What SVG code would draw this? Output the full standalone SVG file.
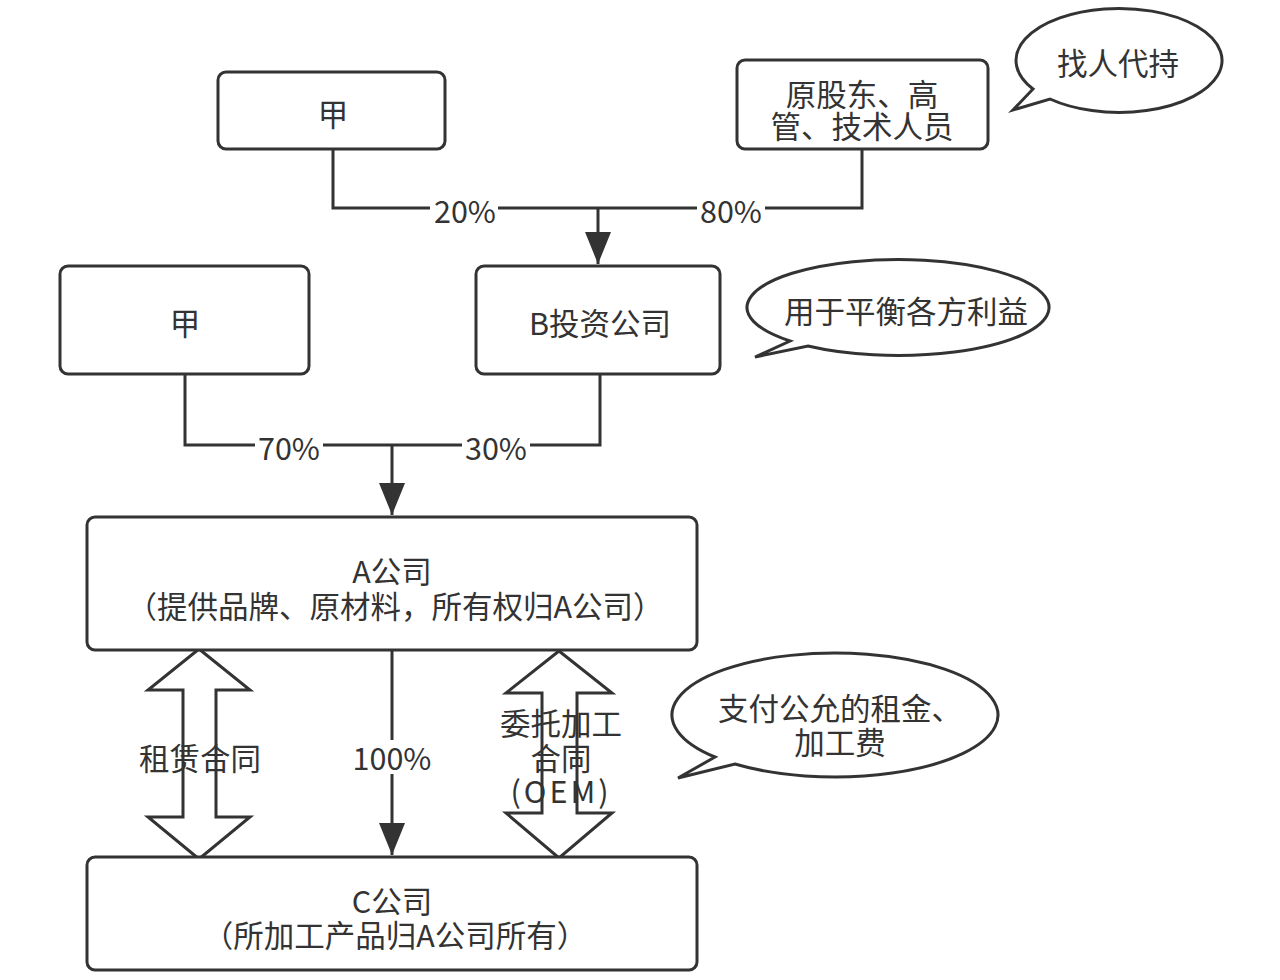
<svg xmlns="http://www.w3.org/2000/svg" width="1280" height="980" viewBox="0 0 1280 980">
<defs>
<style>
.box{fill:#fff;stroke:#333;stroke-width:3}
.ln{fill:none;stroke:#333;stroke-width:3}
.t{font-family:"Noto Sans CJK SC","Noto Sans",sans-serif;font-size:30.5px;fill:#333;text-anchor:middle;dominant-baseline:central}
.bg{fill:#fff}
</style>
<marker id="ah" markerUnits="userSpaceOnUse" markerWidth="34" markerHeight="28" refX="32" refY="13" orient="auto">
<path d="M0,0 L32,13 L0,26 Z" fill="#333"/>
</marker>
</defs>
<rect width="1280" height="980" fill="#fff"/>
<g id="connectors">
<path class="ln" d="M333,149 V208 H862 V149"/>
<path class="ln" d="M598,208 V264" marker-end="url(#ah)"/>
<rect class="bg" x="430" y="194" width="68" height="32"/>
<text class="t" x="465" y="210">20%</text>
<rect class="bg" x="697" y="194" width="68" height="32"/>
<text class="t" x="731" y="210">80%</text>
<path class="ln" d="M185,374 V445 H600 V374"/>
<path class="ln" d="M392,445 V515" marker-end="url(#ah)"/>
<rect class="bg" x="255" y="431" width="68" height="32"/>
<text class="t" x="289" y="447">70%</text>
<rect class="bg" x="462" y="431" width="68" height="32"/>
<text class="t" x="496" y="447">30%</text>
<path class="ln" d="M392,650 V855" marker-end="url(#ah)"/>
<rect class="bg" x="348" y="740" width="88" height="34"/>
<text class="t" x="392" y="757">100%</text>
<path id="lease" class="ln" fill="#fff" d="M199,649 L250,690 L216,690 L216,817 L250,817 L199,859 L148,817 L183,817 L183,690 L148,690 Z"/>
<text class="t" x="200" y="757">租赁合同</text>
<path id="oem" class="ln" d="M559,651 L612,693 L577,693 L577,813 L612,813 L559,858 L506,813 L542,813 L542,693 L506,693 Z"/>
<text class="t" x="561" y="722">委托加工</text>
<text class="t" x="561" y="757">合同</text>
<text class="t" x="561" y="790" letter-spacing="3">(OEM)</text>
</g>
<g id="jia1">
<rect class="box" x="218" y="72" width="227" height="77" rx="8"/>
<text class="t" x="333" y="113">甲</text>
</g>
<g id="shareholders">
<rect class="box" x="737" y="60" width="251" height="89" rx="8"/>
<text class="t" x="862" y="93">原股东、高</text>
<text class="t" x="862" y="125">管、技术人员</text>
</g>
<g id="bubble1">
<path class="box" d="M1050,99 A103 52 0 1 0 1033,89 L1013,110 Z"/>
<text class="t" x="1118" y="62">找人代持</text>
</g>
<g id="jia2">
<rect class="box" x="60" y="266" width="249" height="108" rx="8"/>
<text class="t" x="185" y="322">甲</text>
</g>
<g id="bcompany">
<rect class="box" x="476" y="266" width="244" height="108" rx="8"/>
<text class="t" x="600" y="322">B投资公司</text>
</g>
<g id="bubble2">
<path class="box" d="M808,346 A151 48 0 1 0 790,341 L755,357 Z"/>
<text class="t" x="906" y="310">用于平衡各方利益</text>
</g>
<g id="acompany">
<rect class="box" x="87" y="517" width="610" height="133" rx="8"/>
<text class="t" x="392" y="570">A公司</text>
<text class="t" x="395" y="605">（提供品牌、原材料，所有权归A公司）</text>
</g>
<g id="bubble3">
<path class="box" d="M735,764 A163 62 0 1 0 715,757 L678,778 Z"/>
<text class="t" x="840" y="707">支付公允的租金、</text>
<text class="t" x="840" y="741">加工费</text>
</g>
<g id="ccompany">
<rect class="box" x="87" y="857" width="610" height="113" rx="8"/>
<text class="t" x="392" y="900">C公司</text>
<text class="t" x="395" y="934">（所加工产品归A公司所有）</text>
</g>
</svg>
